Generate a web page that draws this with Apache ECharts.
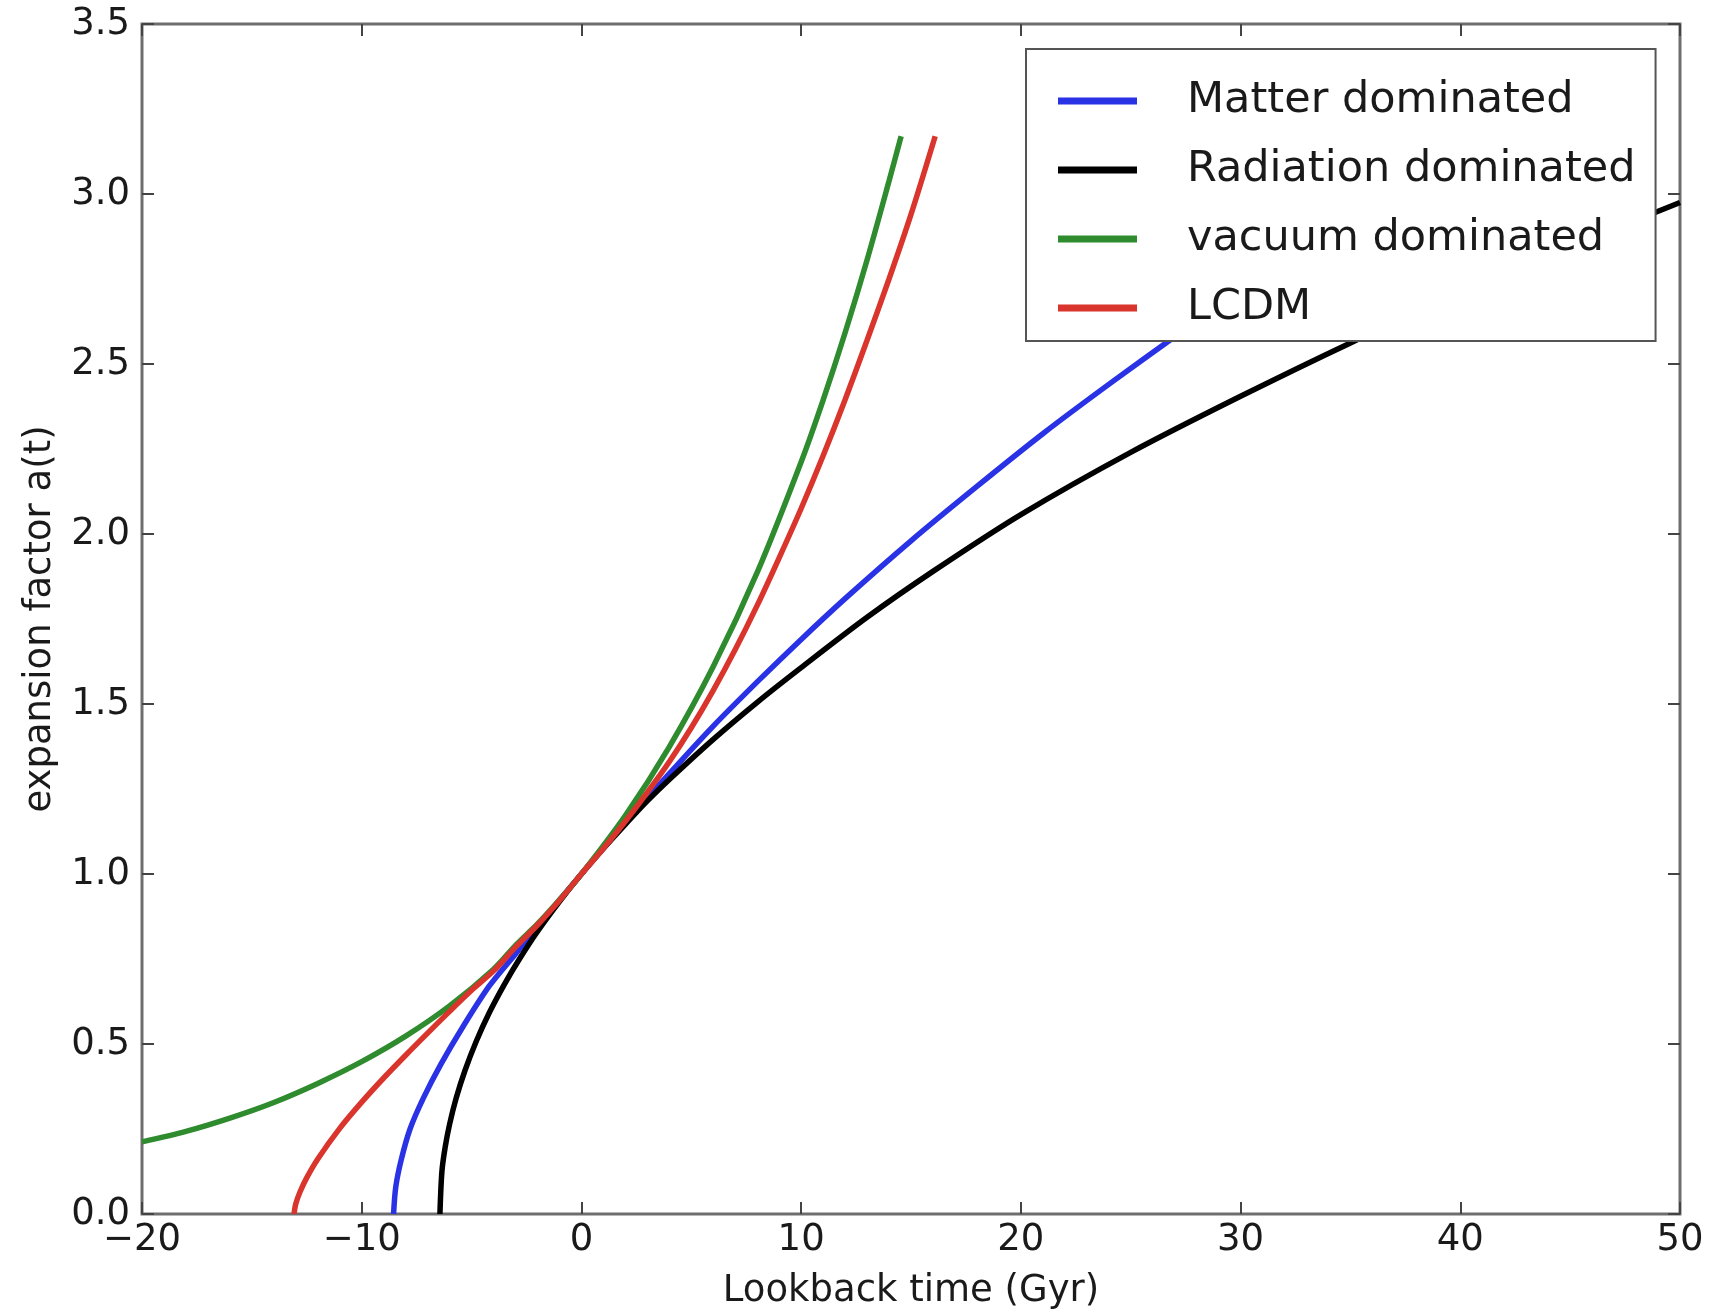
<!DOCTYPE html>
<html>
<head>
<meta charset="utf-8">
<script src="https://cdn.jsdelivr.net/npm/echarts@6/dist/echarts.min.js"></script>
<style>
  html, body { margin: 0; padding: 0; background: #ffffff; }
  #chart { width: 1711px; height: 1315px; }
</style>
</head>
<body>
<div id="chart"></div>
<script>
// Time relative to today (Gyr) and expansion factor a(t) for each model
const matterT = [-8.55, -8.45, -8.2, -7.8, -7.2, -6.4, -5.4, -4.2, -3.0, -2.0, -1.0, 0, 2, 4, 6, 8, 10, 12, 15, 18, 21, 24, 27, 30, 35, 40];
const matterA = [0.0, 0.08, 0.16, 0.25, 0.34, 0.44, 0.55, 0.67, 0.765, 0.845, 0.923, 1.0, 1.15, 1.295, 1.435, 1.565, 1.69, 1.81, 1.98, 2.14, 2.295, 2.44, 2.58, 2.715, 2.935, 3.15];

const radiationT = [-6.44, -6.35, -6.2, -6.0, -5.7, -5.3, -4.8, -4.2, -3.5, -2.8, -2.0, -1.0, 0, 1, 2, 3, 4, 6, 8, 10, 13, 16, 20, 25, 30, 35, 40, 45, 50];
const radiationA = [0.0, 0.125, 0.197, 0.264, 0.341, 0.422, 0.506, 0.591, 0.676, 0.752, 0.831, 0.919, 1.0, 1.075, 1.146, 1.215, 1.278, 1.396, 1.505, 1.607, 1.755, 1.89, 2.057, 2.24, 2.405, 2.562, 2.71, 2.845, 2.975];

const vacuumT = [-20, -18, -16, -14, -12, -10, -8, -6, -4, -3, -2, -1, 0, 2, 4, 6, 8, 10, 11, 12, 13, 14, 14.55];
const vacuumA = [0.212, 0.243, 0.282, 0.328, 0.384, 0.448, 0.523, 0.612, 0.72, 0.79, 0.853, 0.924, 1.0, 1.172, 1.374, 1.61, 1.887, 2.212, 2.394, 2.592, 2.806, 3.038, 3.17];

const lcdmT = [-13.08, -13.0, -12.8, -12.5, -12.0, -11.0, -10.0, -9.0, -8.0, -7.0, -6.0, -5.0, -4.0, -3.0, -2.0, -1.0, 0, 1, 2, 3, 4, 5, 6, 7, 8, 9, 10, 11, 12, 13, 14, 15, 16.1];
const lcdmA = [0.0, 0.03, 0.066, 0.107, 0.162, 0.252, 0.329, 0.40, 0.467, 0.532, 0.596, 0.658, 0.715, 0.785, 0.85, 0.922, 1.0, 1.075, 1.155, 1.24, 1.33, 1.43, 1.54, 1.66, 1.79, 1.93, 2.075, 2.23, 2.395, 2.57, 2.75, 2.94, 3.17];

const seriesNames = ['Matter dominated', 'Radiation dominated', 'vacuum dominated', 'LCDM'];
const seriesColors = ['#2a32e6', '#000000', '#2e8b2e', '#d9352c'];

function pairs(ts, as) {
  return ts.map((t, i) => [t, as[i]]);
}

const FONT = 'DejaVu Sans';
const TEXT = '#1a1a1a';
const FRAME = '#6e6e6e';

const tickStyle = { show: true, inside: true, length: 12, lineStyle: { color: '#444', width: 2 } };
const hiddenLine = { show: false, onZero: false };

const chart = echarts.init(document.getElementById('chart'), null, { renderer: 'canvas' });

const datasets = [pairs(matterT, matterA), pairs(radiationT, radiationA), pairs(vacuumT, vacuumA), pairs(lcdmT, lcdmA)];

chart.setOption({
  animation: false,
  backgroundColor: '#ffffff',
  grid: {
    left: 142, right: 31, top: 24, bottom: 98,
    show: true, borderColor: FRAME, borderWidth: 3, backgroundColor: 'transparent'
  },
  legend: {
    orient: 'vertical',
    left: 1026, top: 49,
    padding: [29, 20, 10, 32],
    itemGap: 23,
    itemWidth: 79, itemHeight: 7,
    icon: 'rect',
    backgroundColor: '#ffffff',
    borderColor: '#555555', borderWidth: 2, borderRadius: 0,
    textStyle: { fontFamily: FONT, fontSize: 43, lineHeight: 46, color: TEXT, padding: [0, 0, 0, 45] },
    data: seriesNames
  },
  xAxis: [
    {
      type: 'value', min: -20, max: 50, interval: 10, position: 'bottom',
      name: 'Lookback time (Gyr)', nameLocation: 'middle', nameGap: 59,
      nameTextStyle: { fontFamily: FONT, fontSize: 37, color: TEXT },
      axisLine: hiddenLine,
      axisTick: tickStyle,
      splitLine: { show: false },
      axisLabel: {
        fontFamily: FONT, fontSize: 37, color: TEXT, margin: 8,
        showMinLabel: true, showMaxLabel: true,
        formatter: v => (v < 0 ? '\u2212' + Math.abs(v) : String(v))
      }
    },
    {
      type: 'value', min: -20, max: 50, interval: 10, position: 'top',
      axisLine: hiddenLine, axisTick: tickStyle,
      axisLabel: { show: false }, splitLine: { show: false }
    }
  ],
  yAxis: [
    {
      type: 'value', min: 0, max: 3.5, interval: 0.5, position: 'left',
      name: 'expansion factor a(t)', nameLocation: 'middle', nameGap: 83,
      nameTextStyle: { fontFamily: FONT, fontSize: 37, color: TEXT },
      axisLine: hiddenLine,
      axisTick: tickStyle,
      splitLine: { show: false },
      axisLabel: {
        fontFamily: FONT, fontSize: 37, color: TEXT, margin: 12,
        showMinLabel: true, showMaxLabel: true,
        formatter: v => v.toFixed(1)
      }
    },
    {
      type: 'value', min: 0, max: 3.5, interval: 0.5, position: 'right',
      axisLine: hiddenLine, axisTick: tickStyle,
      axisLabel: { show: false }, splitLine: { show: false }
    }
  ],
  series: seriesNames.map((name, i) => ({
    name: name,
    type: 'line',
    xAxisIndex: 0, yAxisIndex: 0,
    data: datasets[i],
    showSymbol: false, symbol: 'none',
    smooth: 0.3,
    clip: true,
    color: seriesColors[i],
    lineStyle: { color: seriesColors[i], width: 5.5 },
    itemStyle: { color: seriesColors[i] },
    z: 2 + i
  }))
});
</script>
</body>
</html>
